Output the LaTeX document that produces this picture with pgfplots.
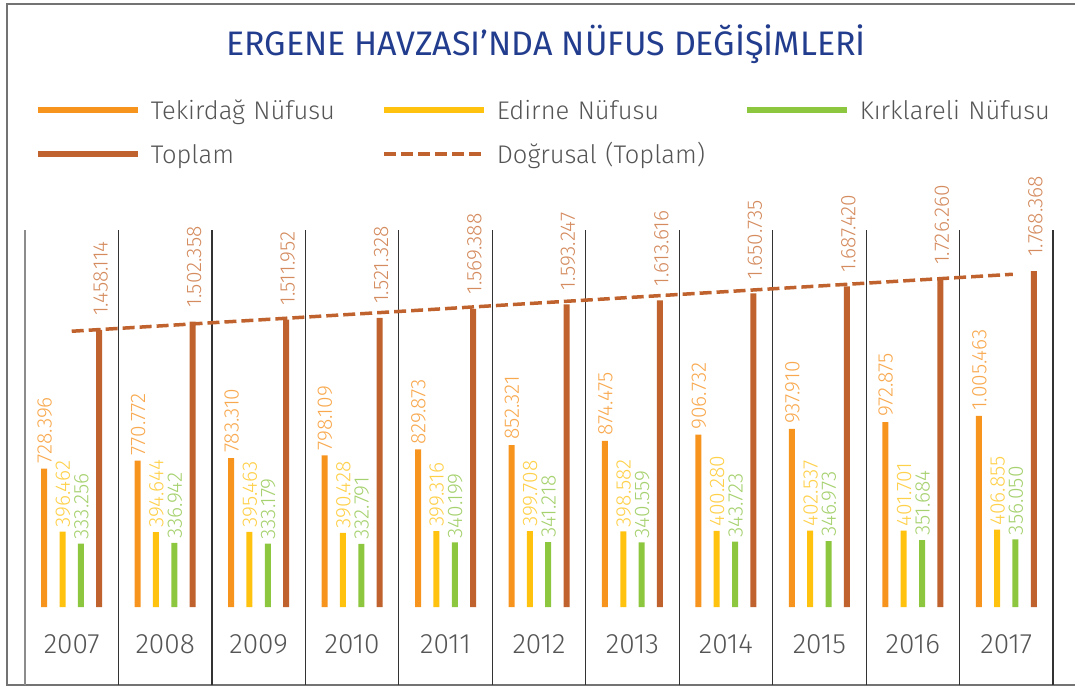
\documentclass[border=0pt]{standalone}
\usepackage{fontspec}
\setmainfont{Fira Sans Light}
\newfontfamily\titlefont{Fira Sans}
\usepackage{pgfplots}
\pgfplotsset{compat=1.18}
\definecolor{tek}{HTML}{F7941E}
\definecolor{edi}{HTML}{FFC20E}
\definecolor{kir}{HTML}{8DC63F}
\definecolor{top}{HTML}{C0622D}
\definecolor{tekl}{HTML}{F8A94F}
\definecolor{edil}{HTML}{FFD04A}
\definecolor{kirl}{HTML}{A6D16F}
\definecolor{topl}{HTML}{D48B5E}
\definecolor{ttl}{HTML}{233D8E}
\definecolor{txt}{HTML}{555555}
\pgfplotsset{
  lbl/.style n args={3}{nodes near coords={\rotatebox{90}{\pgfplotspointmeta}}, point meta=explicit symbolic,
    every node near coord/.append style={anchor=south, font=\fontsize{21}{21}\selectfont,
      text=#1, inner ysep=#2, inner xsep=0pt, xshift=#3}},
}
\begin{document}
\begin{tikzpicture}[x=1pt,y=1pt]
\useasboundingbox (0,0) rectangle (1075,686);
\draw[color=black!55, line width=1.5pt] (1080,682) -- (7,682) -- (7,1) -- (1080,1);
\begin{axis}[
  at={(25pt,1pt)}, anchor=south west,
  scale only axis, width=1028pt, height=455pt,
  xmin=-0.5, xmax=10.5, ymin=-410.5, ymax=1984.2,
  clip=false,
  axis line style={draw=none},
  ytick=\empty,
  xtick={0,...,10},
  xticklabels={2007,2008,2009,2010,2011,2012,2013,2014,2015,2016,2017},
  xticklabel style={font=\fontsize{28}{28}\selectfont, text=txt, anchor=base, yshift=32pt},
  major tick length=0pt, minor tick length=0pt,
  minor xtick={0.5,1.5,2.5,3.5,4.5,5.5,6.5,7.5,8.5,9.5,10.5},
  xminorgrids=true,
  minor grid style={color=black!80, line width=1.2pt},
  extra x ticks={-0.5}, extra x tick labels={},
  extra x tick style={grid=major, major grid style={color=black!45, line width=2pt}},
  legend columns=3,
  legend cell align=left,
  legend style={draw=none, fill=none, at={(0.0096,1.2901)}, anchor=north west,
    font=\fontsize{25.5}{28}\selectfont, text=txt,
    inner sep=0pt, outer sep=0pt,
    nodes={inner sep=0pt},
    row sep=20pt,
    /tikz/every odd column/.append style={column sep=10pt},
    /tikz/every even column/.append style={column sep=14pt},
    /tikz/column 2/.append style={nodes={text width=216pt, text height=21pt, text depth=3pt}},
    /tikz/column 4/.append style={nodes={text width=233pt, text height=21pt, text depth=3pt}},
    /tikz/column 6/.append style={nodes={text width=200pt, text height=21pt, text depth=3pt}},
  },
]
\addplot[ybar, bar width=6pt, bar shift=-27.5pt, fill=tek, draw=none, lbl={tekl}{5pt}{-27pt},
  legend image code/.code={\draw[tek, line width=6pt] (0pt,0pt) -- (100pt,0pt);}]
  coordinates {(0,728.396)[728.396] (1,770.772)[770.772] (2,783.310)[783.310] (3,798.109)[798.109]
  (4,829.873)[829.873] (5,852.321)[852.321] (6,874.475)[874.475] (7,906.732)[906.732]
  (8,937.910)[937.910] (9,972.875)[972.875] (10,1005.463)[1.005.463]};
\addlegendentry{Tekirdağ Nüfusu}
\addplot[ybar, bar width=6pt, bar shift=-9.2pt, fill=edi, draw=none, lbl={edil}{4pt}{-8.7pt},
  legend image code/.code={\draw[edi, line width=6pt] (0pt,0pt) -- (100pt,0pt);}]
  coordinates {(0,396.462)[396.462] (1,394.644)[394.644] (2,395.463)[395.463] (3,390.428)[390.428]
  (4,399.316)[399.316] (5,399.708)[399.708] (6,398.582)[398.582] (7,400.280)[400.280]
  (8,402.537)[402.537] (9,401.701)[401.701] (10,406.855)[406.855]};
\addlegendentry{Edirne Nüfusu}
\addplot[ybar, bar width=6pt, bar shift=9.2pt, fill=kir, draw=none, lbl={kirl}{4pt}{9.7pt},
  legend image code/.code={\draw[kir, line width=6pt] (0pt,0pt) -- (100pt,0pt);}]
  coordinates {(0,333.256)[333.256] (1,336.942)[336.942] (2,333.179)[333.179] (3,332.791)[332.791]
  (4,340.199)[340.199] (5,341.218)[341.218] (6,340.559)[340.559] (7,343.723)[343.723]
  (8,346.973)[346.973] (9,351.684)[351.684] (10,356.050)[356.050]};
\addlegendentry{Kırklareli Nüfusu}
\addplot[ybar, bar width=6pt, bar shift=27.5pt, fill=top, draw=none, lbl={topl}{14pt}{29pt},
  legend image code/.code={\draw[top, line width=6pt] (0pt,0pt) -- (100pt,0pt);}]
  coordinates {(0,1458.114)[1.458.114] (1,1502.358)[1.502.358] (2,1511.952)[1.511.952] (3,1521.328)[1.521.328]
  (4,1569.388)[1.569.388] (5,1593.247)[1.593.247] (6,1613.616)[1.613.616] (7,1650.735)[1.650.735]
  (8,1687.420)[1.687.420] (9,1726.260)[1.726.260] (10,1768.368)[1.768.368]};
\addlegendentry{Toplam}
\addplot[sharp plot, no marks, color=top, line width=3.5pt, dash pattern=on 12pt off 5pt,
  legend image code/.code={\draw[top, line width=3.5pt, dash pattern=on 12pt off 5pt] (0pt,0pt) -- (100pt,0pt);}]
  coordinates {(0,1451.3) (10.07,1751.3)};
\addlegendentry{Doğrusal (Toplam)}
\end{axis}
\node[anchor=base, text=ttl, font=\titlefont\fontsize{34}{40}\selectfont] at (546,630) {ERGENE HAVZASI’NDA NÜFUS DEĞİŞİMLERİ};
\end{tikzpicture}
\end{document}
